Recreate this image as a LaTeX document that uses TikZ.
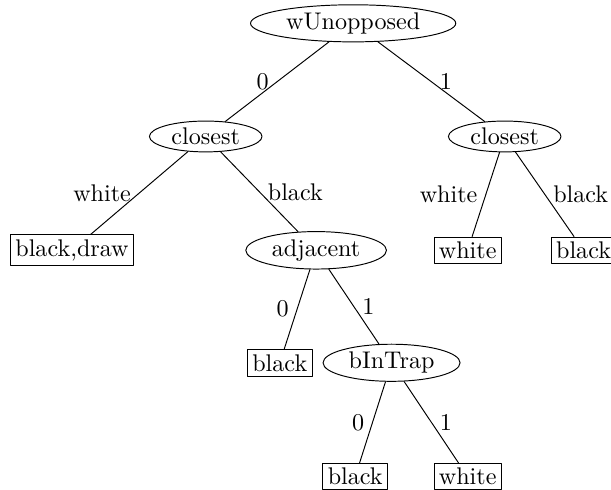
\documentclass[tikz,border=0pt]{standalone}
\usetikzlibrary{shapes.geometric}
\begin{document}
\begin{tikzpicture}[line join = round, line cap = round,
		test/.style={ellipse,draw,inner xsep=2.3pt,inner ysep=1pt},
		leaf/.style={rectangle,draw,inner sep=2pt}]
			\useasboundingbox (0,0) rectangle (8.91,-7.145);
			\path
			(5.15,-0.34) node[test] (wU) {wUnopposed}
			(3.00,-1.99) node[test] (cL) {closest}
			(7.36,-1.99) node[test] (cR) {closest}
			(1.05,-3.65) node[leaf] (bd) {black,draw}
			(4.61,-3.65) node[test] (adj) {adjacent}
			(6.82,-3.65) node[leaf] (wR) {white}
			(8.51,-3.65) node[leaf] (bR) {black}
			(4.08,-5.29) node[leaf] (bA) {black}
			(5.71,-5.29) node[test] (bT) {bInTrap}
			(5.18,-6.95) node[leaf] (bB) {black}
			(6.82,-6.95) node[leaf] (wB) {white}
			;
			% edges with their labels
			\foreach \p/\c/\l/\s in {wU/cL/0/left,wU/cR/1/right,cL/bd/white/left,cL/adj/black/right,cR/wR/white/left,cR/bR/black/right,adj/bA/0/left,adj/bT/1/right,bT/bB/0/left,bT/wB/1/right}
				\draw (\p) -- node[\s] {\l} (\c);
		\end{tikzpicture}
\end{document}
